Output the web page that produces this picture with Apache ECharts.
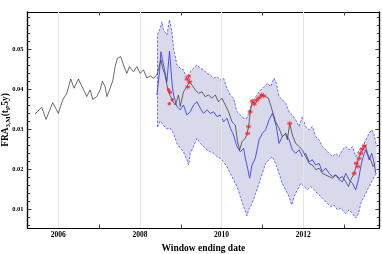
<!DOCTYPE html>
<html><head><meta charset="utf-8">
<script src="https://cdn.jsdelivr.net/npm/echarts@6/dist/echarts.min.js"></script>
<style>html,body{margin:0;padding:0;background:#fff}#c{width:382px;height:254px}</style>
</head><body><div id="c"></div>
<script>
// ---- data (decimal year, value) ----
const REALIZED = [[2005.428,0.0338],[2005.485,0.0343],[2005.593,0.0354],[2005.698,0.0324],[2005.863,0.0366],[2006.0,0.0339],[2006.108,0.0373],[2006.206,0.0389],[2006.304,0.0425],[2006.385,0.0402],[2006.491,0.0425],[2006.599,0.0402],[2006.697,0.0381],[2006.778,0.0398],[2006.844,0.0374],[2006.942,0.0381],[2007.023,0.0398],[2007.080,0.0419],[2007.146,0.0406],[2007.188,0.0381],[2007.269,0.0402],[2007.335,0.0421],[2007.391,0.0456],[2007.448,0.0477],[2007.531,0.0481],[2007.595,0.0460],[2007.679,0.0439],[2007.742,0.0456],[2007.840,0.0443],[2007.924,0.0456],[2008.005,0.0439],[2008.086,0.0448],[2008.169,0.0427],[2008.250,0.0433],[2008.331,0.0427],[2008.415,0.0435],[2008.479,0.0460],[2008.513,0.0473],[2008.562,0.0450],[2008.618,0.0435],[2008.660,0.0410],[2008.699,0.0393],[2008.758,0.0380],[2008.802,0.0370],[2008.864,0.0360],[2008.945,0.0385],[2008.987,0.0356],[2009.067,0.0393],[2009.151,0.0406],[2009.215,0.0418],[2009.274,0.0410],[2009.355,0.0398],[2009.436,0.0389],[2009.519,0.0393],[2009.600,0.0381],[2009.681,0.0385],[2009.764,0.0377],[2009.845,0.0385],[2009.926,0.0368],[2010.010,0.0377],[2010.091,0.0360],[2010.172,0.0343],[2010.255,0.0318],[2010.336,0.0310],[2010.393,0.0268],[2010.442,0.0248],[2010.501,0.0268],[2010.582,0.0277],[2010.623,0.0289],[2010.663,0.0306],[2010.704,0.0343],[2010.746,0.0368],[2010.827,0.0364],[2010.918,0.0377],[2010.999,0.0385],[2011.080,0.0381],[2011.146,0.0377],[2011.202,0.0360],[2011.261,0.0339],[2011.325,0.0318],[2011.408,0.0302],[2011.489,0.0281],[2011.571,0.0289],[2011.612,0.0273],[2011.669,0.0314],[2011.735,0.0285],[2011.816,0.0264],[2011.899,0.0256],[2011.980,0.0248],[2012.061,0.0231],[2012.145,0.0214],[2012.226,0.0210],[2012.307,0.0198],[2012.390,0.0202],[2012.471,0.0189],[2012.552,0.0185],[2012.636,0.0181],[2012.717,0.0177],[2012.798,0.0185],[2012.881,0.0177],[2012.962,0.0181],[2013.043,0.0168],[2013.109,0.0156],[2013.166,0.0173],[2013.249,0.0189],[2013.305,0.0210],[2013.372,0.0231],[2013.453,0.0248],[2013.519,0.0260],[2013.575,0.0239],[2013.656,0.0222],[2013.715,0.0206],[2013.764,0.0214]];

const MEDIAN = [[2008.415,0.0385],[2008.479,0.0443],[2008.513,0.0493],[2008.577,0.0460],[2008.618,0.0439],[2008.660,0.0418],[2008.724,0.0495],[2008.783,0.0418],[2008.822,0.0385],[2008.906,0.0356],[2008.987,0.0348],[2009.067,0.0360],[2009.151,0.0335],[2009.232,0.0343],[2009.313,0.0360],[2009.396,0.0368],[2009.477,0.0352],[2009.558,0.0339],[2009.642,0.0348],[2009.723,0.0339],[2009.804,0.0343],[2009.887,0.0331],[2009.968,0.0335],[2010.049,0.0318],[2010.133,0.0327],[2010.214,0.0302],[2010.294,0.0285],[2010.378,0.0256],[2010.459,0.0243],[2010.540,0.0252],[2010.582,0.0227],[2010.638,0.0202],[2010.687,0.0177],[2010.746,0.0210],[2010.827,0.0227],[2010.918,0.0273],[2010.999,0.0289],[2011.080,0.0298],[2011.163,0.0323],[2011.244,0.0339],[2011.285,0.0327],[2011.342,0.0306],[2011.408,0.0264],[2011.489,0.0281],[2011.571,0.0289],[2011.654,0.0273],[2011.735,0.0248],[2011.816,0.0239],[2011.899,0.0248],[2011.980,0.0231],[2012.061,0.0239],[2012.145,0.0218],[2012.226,0.0223],[2012.307,0.0210],[2012.390,0.0214],[2012.471,0.0193],[2012.552,0.0202],[2012.636,0.0189],[2012.717,0.0181],[2012.798,0.0185],[2012.881,0.0173],[2012.962,0.0168],[2013.043,0.0189],[2013.126,0.0173],[2013.207,0.0164],[2013.288,0.0148],[2013.354,0.0173],[2013.411,0.0206],[2013.470,0.0231],[2013.534,0.0248],[2013.617,0.0223],[2013.681,0.0239],[2013.740,0.0214],[2013.779,0.0189]];

const UPPER = [[2008.429,0.0535],[2008.496,0.0552],[2008.537,0.0568],[2008.577,0.0548],[2008.660,0.0535],[2008.724,0.0573],[2008.783,0.0543],[2008.822,0.0502],[2008.906,0.0460],[2008.987,0.0452],[2009.067,0.0448],[2009.109,0.0435],[2009.190,0.0418],[2009.232,0.0443],[2009.313,0.0452],[2009.396,0.0460],[2009.477,0.0452],[2009.558,0.0448],[2009.642,0.0439],[2009.723,0.0435],[2009.804,0.0427],[2009.887,0.0431],[2009.968,0.0423],[2010.049,0.0427],[2010.133,0.0402],[2010.214,0.0385],[2010.294,0.0377],[2010.378,0.0343],[2010.459,0.0335],[2010.540,0.0327],[2010.623,0.0327],[2010.704,0.0352],[2010.785,0.0373],[2010.839,0.0381],[2010.918,0.0393],[2011.041,0.0406],[2011.122,0.0414],[2011.203,0.0406],[2011.285,0.0427],[2011.342,0.0414],[2011.408,0.0381],[2011.489,0.0373],[2011.571,0.0364],[2011.654,0.0343],[2011.735,0.0335],[2011.816,0.0323],[2011.899,0.0306],[2011.980,0.0331],[2012.061,0.0306],[2012.145,0.0298],[2012.226,0.0306],[2012.307,0.0281],[2012.390,0.0273],[2012.471,0.0256],[2012.552,0.0248],[2012.636,0.0239],[2012.717,0.0231],[2012.798,0.0239],[2012.881,0.0231],[2012.962,0.0248],[2013.043,0.0256],[2013.126,0.0248],[2013.207,0.0256],[2013.288,0.0231],[2013.372,0.0248],[2013.453,0.0256],[2013.534,0.0273],[2013.617,0.0289],[2013.681,0.0298],[2013.740,0.0285],[2013.797,0.0256]];

const LOWER = [[2008.429,0.0305],[2008.496,0.0320],[2008.570,0.0310],[2008.660,0.0300],[2008.741,0.0302],[2008.822,0.0289],[2008.906,0.0264],[2008.987,0.0252],[2009.067,0.0243],[2009.151,0.0223],[2009.190,0.0210],[2009.232,0.0239],[2009.313,0.0256],[2009.396,0.0277],[2009.477,0.0264],[2009.558,0.0256],[2009.642,0.0248],[2009.723,0.0243],[2009.804,0.0239],[2009.887,0.0231],[2009.968,0.0227],[2010.049,0.0218],[2010.133,0.0206],[2010.214,0.0189],[2010.294,0.0173],[2010.378,0.0156],[2010.459,0.0131],[2010.540,0.0106],[2010.623,0.0083],[2010.663,0.0098],[2010.746,0.0114],[2010.834,0.0139],[2010.918,0.0164],[2010.999,0.0189],[2011.080,0.0214],[2011.163,0.0223],[2011.244,0.0231],[2011.325,0.0214],[2011.408,0.0189],[2011.489,0.0164],[2011.571,0.0148],[2011.654,0.0131],[2011.718,0.0110],[2011.776,0.0131],[2011.857,0.0148],[2011.939,0.0164],[2012.022,0.0156],[2012.103,0.0148],[2012.184,0.0156],[2012.267,0.0148],[2012.348,0.0139],[2012.429,0.0131],[2012.512,0.0123],[2012.593,0.0114],[2012.674,0.0106],[2012.757,0.0110],[2012.838,0.0098],[2012.919,0.0102],[2013.043,0.0089],[2013.126,0.0098],[2013.207,0.0089],[2013.288,0.0077],[2013.354,0.0089],[2013.411,0.0114],[2013.494,0.0131],[2013.575,0.0148],[2013.656,0.0164],[2013.740,0.0181],[2013.797,0.0189]];

const EXCEED_DOTS = [[2008.70,0.0398],[2008.74,0.0392],[2008.72,0.0363],[2008.79,0.0373]];
const EXCEED_STARS = [[2009.15,0.0425],[2009.19,0.0432],[2009.22,0.0418],[2009.17,0.0405],[2010.66,0.0306],[2010.64,0.0289],[2010.70,0.0343],[2010.75,0.0370],[2010.80,0.0362],[2010.86,0.0372],[2010.92,0.0378],[2010.98,0.0385],[2011.03,0.0383],[2011.67,0.0314],[2013.25,0.0189],[2013.30,0.0214],[2013.34,0.0206],[2013.37,0.0226],[2013.41,0.0239],[2013.45,0.0250],[2013.50,0.0258]];

const X_TICKS = [2006,2007,2008,2009,2010,2011,2012,2013];
const X_LABELS = [2006,2008,2010,2012];
const X_GRID = [2006,2008,2010,2012];
const Y_MAJOR = [0.01,0.02,0.03,0.04,0.05];
const Y_MINOR = [0.006,0.008,0.012,0.014,0.016,0.018,0.022,0.024,0.026,0.028,0.032,0.034,0.036,0.038,0.042,0.044,0.046,0.048,0.052,0.054,0.056,0.058];
const X_MIN = 2005.244, X_MAX = 2013.865, Y_MIN = 0.00525, Y_MAX = 0.05925;

const FONT = '"Liberation Serif","DejaVu Serif",serif';
const chart = echarts.init(document.getElementById('c'), null, {renderer:'canvas'});

function xAx(pos, show) {
  return {type:'value', min:X_MIN, max:X_MAX, position:pos,
    axisLine:{show:true, onZero:false, lineStyle:{color:'#000', width:1.2}},
    axisTick:{show:true, inside:true, length:3.5, customValues:X_TICKS, lineStyle:{color:'#444', width:1}},
    axisLabel:{show:show, customValues:X_LABELS, formatter:v=>String(v), fontFamily:FONT, fontWeight:'bold', fontSize:7.5, color:'#000', margin:3},
    splitLine:{show:false},
    name: show ? 'Window ending date' : '', nameLocation:'middle', nameGap:16, nameMoveOverlap:false,
    nameTextStyle:{fontFamily:FONT, fontWeight:'bold', fontSize:9.5, color:'#000'}};
}
function yAx(pos, vals, len, label, name) {
  return {type:'value', min:Y_MIN, max:Y_MAX, position:pos,
    axisLine:{show:true, onZero:false, lineStyle:{color:'#000', width:1.2}},
    axisTick:{show:true, inside:true, length:len, customValues:vals, lineStyle:{color:'#444', width:1}},
    axisLabel:{show:label, customValues:vals, formatter:v=>v.toFixed(2), fontFamily:FONT, fontWeight:'bold', fontSize:6.5, color:'#000', margin:4},
    splitLine:{show:false},
    name: name ? '{b|FRA}{s|3,M}{b|(t}{s|i}{b|,5y)}' : '', nameLocation:'middle', nameRotate:90, nameGap:16, nameMoveOverlap:false,
    nameTextStyle:{rich:{b:{fontFamily:FONT, fontWeight:'bold', fontSize:9.5, color:'#000', lineHeight:11}, s:{fontFamily:FONT, fontWeight:'bold', fontSize:6.5, color:'#000', lineHeight:11, verticalAlign:'bottom'}}}};
}

const STAR = 'path://M0,-1L0,1M-0.87,-0.5L0.87,0.5M-0.87,0.5L0.87,-0.5M-1,0L1,0';

chart.setOption({
  animation:false,
  grid:{left:27.5, right:2.7, top:12, bottom:26, outerBoundsMode:'none', containLabel:false},
  xAxis:[xAx('bottom', true), xAx('top', false)],
  yAxis:[yAx('left', Y_MAJOR, 4, true, true), yAx('left', Y_MINOR, 2.5, false, false),
         yAx('right', Y_MAJOR, 4, false, false), yAx('right', Y_MINOR, 2.5, false, false)],
  series:[
    {type:'custom', xAxisIndex:0, yAxisIndex:0, z:1, silent:true, clip:true,
     data:[UPPER[0]],
     renderItem:function(params, api){
       const pts = UPPER.map(p=>api.coord(p)).concat(LOWER.slice().reverse().map(p=>api.coord(p)));
       return {type:'polygon', shape:{points:pts}, style:{fill:'#d9d9ec', stroke:null}};
     }},
    {type:'line', z:2, data:X_GRID.map(x=>[x,Y_MIN]), showSymbol:false, lineStyle:{width:0}, silent:true,
     markLine:{silent:true, symbol:'none', label:{show:false}, lineStyle:{color:'#e6e6e6', width:1, type:'solid'},
       data:X_GRID.map(x=>({xAxis:x}))}},
    {type:'line', z:3, data:UPPER, showSymbol:false, lineStyle:{color:'#5c5cff', width:0.9, type:[2.5,1.5]}, silent:true},
    {type:'line', z:3, data:LOWER, showSymbol:false, lineStyle:{color:'#5c5cff', width:0.9, type:[2.5,1.5]}, silent:true},
    {type:'line', z:3, data:[LOWER[0], UPPER[0]], showSymbol:false, lineStyle:{color:'#5c5cff', width:0.9, type:[2.5,1.5]}, silent:true},
    {type:'line', z:4, data:MEDIAN, showSymbol:false, lineStyle:{color:'#3f3ff0', width:0.9}, silent:true},
    {type:'line', z:5, data:REALIZED, showSymbol:false, lineStyle:{color:'#3a3a3a', width:0.75}, silent:true},
    {type:'scatter', z:6, data:EXCEED_DOTS, symbol:'circle', symbolSize:3.5, itemStyle:{color:'#ff1a1a'}, silent:true},
    {type:'scatter', z:6, data:EXCEED_STARS, symbol:STAR, symbolSize:5, itemStyle:{color:'rgba(0,0,0,0)', borderColor:'#ff2020', borderWidth:0.9}, silent:true}
  ]
});
</script></body></html>
